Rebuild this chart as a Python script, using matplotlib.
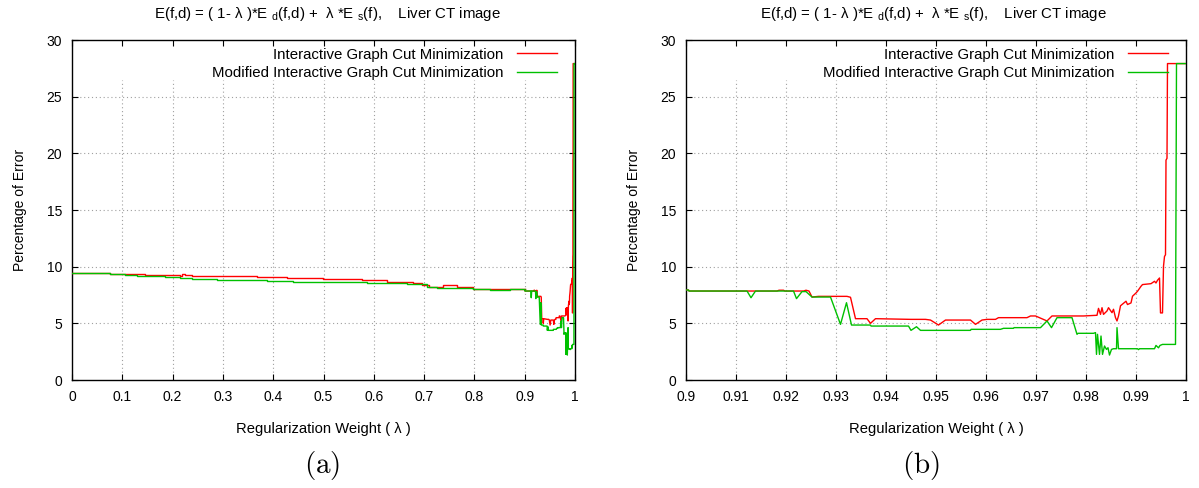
import matplotlib
matplotlib.use("Agg")
import matplotlib.pyplot as plt

plt.rcParams['font.family'] = ['Liberation Sans', 'DejaVu Sans']
plt.rcParams['mathtext.fontset'] = 'custom'
plt.rcParams['mathtext.rm'] = 'Liberation Sans'
plt.rcParams['mathtext.it'] = 'Liberation Sans:italic'

# --- data -------------------------------------------------------------
# lambda < 0.9 : step levels (value holds until the next breakpoint)
lam_red_lo = [0, 0.0755, 0.1451, 0.2147, 0.2180, 0.2250, 0.2379, 0.3671, 0.4268,
              0.4997, 0.5759, 0.6256, 0.6786, 0.6950, 0.7100, 0.7382, 0.7647,
              0.7979, 0.8310, 0.8708, 0.9000]
err_red_lo = [9.47, 9.38, 9.29, 9.18, 9.33, 9.29, 9.21, 9.12, 9.03,
              8.94, 8.82, 8.68, 8.55, 8.40, 8.24, 8.35, 8.20,
              8.06, 8.00, 8.05, 8.05]

lam_green_lo = [0, 0.0755, 0.1054, 0.1286, 0.1849, 0.2147, 0.2379, 0.2876, 0.3473,
                0.3671, 0.3870, 0.4400, 0.5262, 0.5858, 0.6653, 0.7051, 0.7250,
                0.7580, 0.7979, 0.8310, 0.8708, 0.9000]
err_green_lo = [9.47, 9.38, 9.29, 9.21, 9.12, 9.00, 8.91, 8.79, 8.85,
                8.79, 8.74, 8.68, 8.62, 8.53, 8.44, 8.24, 8.15,
                8.12, 8.00, 7.97, 8.00, 8.00]

# lambda in [0.9, 1]
lam_red_hi = [0.9000, 0.9005, 0.9006, 0.9182, 0.9186, 0.9195, 0.9198, 0.9235, 0.9240,
              0.9246, 0.9252, 0.9265, 0.9322, 0.9329, 0.9339, 0.9362, 0.9369, 0.9379,
              0.9450, 0.9479, 0.9489, 0.9505, 0.9519, 0.9569, 0.9579, 0.9592, 0.9602,
              0.9619, 0.9625, 0.9682, 0.9689, 0.9699, 0.9722, 0.9732, 0.9795, 0.9822,
              0.9825, 0.9829, 0.9832, 0.9835, 0.9842, 0.9845, 0.9852, 0.9855, 0.9859,
              0.9862, 0.9865, 0.9869, 0.9880, 0.9883, 0.9890, 0.9893, 0.9900, 0.9903,
              0.9910, 0.9913, 0.9930, 0.9937, 0.9940, 0.9943, 0.9947, 0.9949, 0.9953,
              0.9955, 0.9957, 0.9959, 0.9960, 0.9962, 0.9963, 1.0000]
err_red_hi = [7.94, 7.94, 7.85, 7.85, 7.92, 7.92, 7.85, 7.85, 7.92,
              7.85, 7.32, 7.38, 7.38, 7.30, 5.41, 5.41, 5.00, 5.41,
              5.35, 5.35, 5.29, 4.85, 5.29, 5.29, 4.91, 5.29, 5.35,
              5.35, 5.50, 5.50, 5.65, 5.65, 5.21, 5.65, 5.65, 5.71,
              6.32, 5.79, 6.38, 5.79, 6.09, 6.38, 5.94, 6.24, 5.50,
              5.21, 5.65, 6.55, 6.95, 6.66, 6.80, 7.39, 7.68, 7.83,
              8.27, 8.42, 8.50, 8.71, 8.56, 8.80, 9.00, 5.92, 5.92,
              10.03, 10.90, 11.05, 19.40, 19.56, 27.92, 27.92]

lam_green_hi = [0.9000, 0.9005, 0.9006, 0.9122, 0.9130, 0.9139, 0.9215, 0.9221, 0.9232,
                0.9240, 0.9252, 0.9289, 0.9309, 0.9321, 0.9331, 0.9369, 0.9370, 0.9445,
                0.9450, 0.9461, 0.9469, 0.9569, 0.9570, 0.9629, 0.9635, 0.9655, 0.9656,
                0.9709, 0.9722, 0.9731, 0.9742, 0.9772, 0.9782, 0.9784, 0.9815, 0.9819,
                0.9821, 0.9823, 0.9827, 0.9830, 0.9833, 0.9837, 0.9841, 0.9844, 0.9847,
                0.9851, 0.9855, 0.9861, 0.9862, 0.9865, 0.9903, 0.9905, 0.9907, 0.9937,
                0.9940, 0.9945, 0.9948, 0.9953, 0.9979, 0.9980, 0.9981, 1.0000]
err_green_hi = [7.94, 7.94, 7.85, 7.85, 7.26, 7.85, 7.85, 7.18, 7.80,
                7.80, 7.32, 7.32, 4.91, 6.82, 4.85, 4.85, 4.76, 4.76,
                4.38, 4.70, 4.38, 4.38, 4.47, 4.47, 4.56, 4.56, 4.62,
                4.62, 5.21, 4.62, 5.50, 5.50, 4.03, 4.12, 4.12, 4.18,
                2.26, 4.03, 2.26, 3.88, 2.26, 3.00, 2.70, 2.85, 2.20,
                2.70, 2.76, 2.76, 4.62, 2.76, 2.76, 2.68, 2.76, 2.76,
                3.05, 2.84, 3.05, 3.14, 3.14, 15.60, 27.92, 27.92]

yticks = [0, 5, 10, 15, 20, 25, 30]
xticks_a = [0, 0.1, 0.2, 0.3, 0.4, 0.5, 0.6, 0.7, 0.8, 0.9, 1.0]
xlabels_a = ["0", "0.1", "0.2", "0.3", "0.4", "0.5", "0.6", "0.7", "0.8", "0.9", "1"]
xticks_b = [0.9, 0.91, 0.92, 0.93, 0.94, 0.95, 0.96, 0.97, 0.98, 0.99, 1.0]
xlabels_b = ["0.9", "0.91", "0.92", "0.93", "0.94", "0.95", "0.96", "0.97", "0.98", "0.99", "1"]

name_red = "Interactive Graph Cut Minimization"
name_green = "Modified Interactive Graph Cut Minimization"
title = r"E(f,d) = ( 1- λ )*E $_{\mathrm{d}}$(f,d) +  λ *E $_{\mathrm{s}}$(f),    Liver CT image"

RED = "#ff0000"
GREEN = "#00c000"
GRID = "#a0a0a0"

W, H = 1199, 488
fig = plt.figure(figsize=(W / 100, H / 100), dpi=100)


def make_axes(left, right):
    return fig.add_axes([left / W, (H - 380) / H, (right - left) / W, 340 / H])


def style(ax, xticks, xlabels, xlim, width_px):
    ax.set_xlim(*xlim)
    ax.set_ylim(0, 30)
    ax.set_xticks(xticks)
    ax.set_xticklabels(xlabels)
    ax.set_yticks(yticks)
    ax.vlines(xticks[1:-1], 0, 26.5, colors=GRID, linestyles=(0, (1, 2.5)), lw=0.8, zorder=1)
    ax.hlines(yticks[1:-1], xlim[0], xlim[1], colors=GRID, linestyles=(0, (1, 2.5)), lw=0.8, zorder=1)
    ax.tick_params(direction='in', top=True, right=True, length=4, width=0.8,
                   pad=7, labelsize=10, colors='black')
    for s in ax.spines.values():
        s.set_linewidth(1.0)
        s.set_color('black')
    ax.set_xlabel("Regularization Weight ( λ )", fontsize=10.6, labelpad=13)
    ax.set_ylabel("Percentage of Error", fontsize=10, labelpad=14)
    ax.legend(loc='upper right', frameon=False, markerfirst=False, fontsize=10.8,
              handlelength=2.65, handletextpad=0.95, borderaxespad=0.0,
              borderpad=0.0, labelspacing=0.33,
              bbox_to_anchor=(1 - 18 / width_px, 1 - 7.5 / 340))


ax_a = make_axes(72, 575)
ax_a.step(lam_red_lo, err_red_lo, where='post', color=RED, lw=1.0, zorder=3)
ax_a.step(lam_green_lo, err_green_lo, where='post', color=GREEN, lw=1.0, zorder=3)
ax_a.plot(lam_red_hi, err_red_hi, color=RED, lw=1.0, zorder=3, label=name_red)
ax_a.plot(lam_green_hi, err_green_hi, color=GREEN, lw=1.0, zorder=4, label=name_green)
style(ax_a, xticks_a, xlabels_a, (0, 1), 503)

ax_b = make_axes(686, 1186)
ax_b.plot(lam_red_hi, err_red_hi, color=RED, lw=1.0, zorder=3, label=name_red)
ax_b.plot(lam_green_hi, err_green_hi, color=GREEN, lw=1.0, zorder=4, label=name_green)
style(ax_b, xticks_b, xlabels_b, (0.9, 1.0), 500)

for cx in (327, 933):
    fig.text(cx / W, 1 - 18 / H, title, ha='center', va='baseline', fontsize=10.8)

fig.text(322 / W, 1 - 466 / H, r"$\mathrm{(a)}$", math_fontfamily='cm',
         fontsize=21, ha='center', va='center')
fig.text(921 / W, 1 - 466 / H, r"$\mathrm{(b)}$", math_fontfamily='cm',
         fontsize=21, ha='center', va='center')

fig.savefig("out.png", dpi=100)
